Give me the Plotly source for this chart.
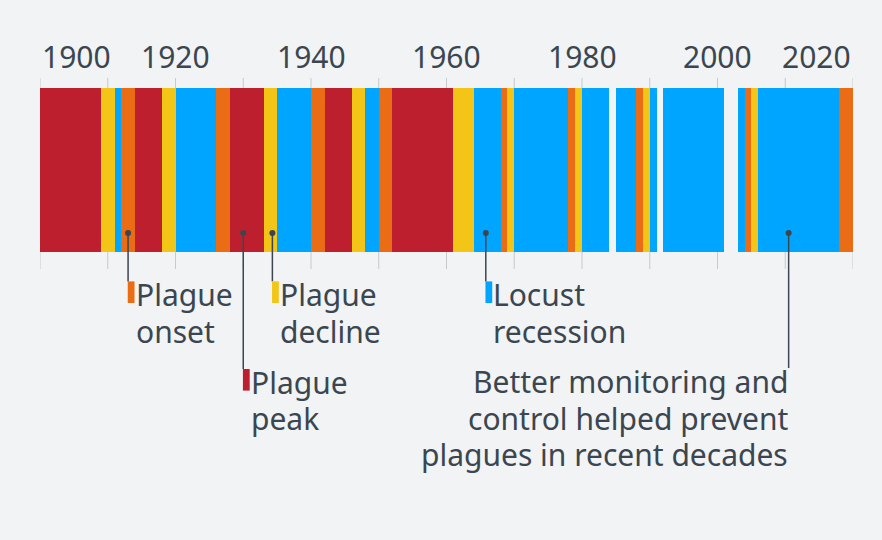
import plotly.graph_objects as go

# ---------------- data ----------------
years = list(range(1900, 2020))
# R = plague peak, O = plague onset, Y = plague decline, B = locust recession, "" = no data
phases = (
    ["R"] * 9 + ["Y"] * 2 + ["B"] + ["O"] * 2 + ["R"] * 4 + ["Y"] * 2      # 1900-1919
    + ["B"] * 6 + ["O"] * 2 + ["R"] * 5 + ["Y"] * 2 + ["B"] * 5            # 1920-1939
    + ["O"] * 2 + ["R"] * 4 + ["Y"] * 2 + ["B"] * 2                        # 1940-1949
    + ["O"] * 2 + ["R"] * 9 + ["Y"] * 3 + ["B"] * 4 + ["O"] + ["Y"]        # 1950-1969
    + ["B"] * 8 + ["O"] + ["Y"]                                            # 1970-1979
    + ["B"] * 4 + [""] + ["B"] * 3 + ["O"] + ["Y"]                         # 1980-1989
    + ["B"] + [""] + ["B"] * 9                                             # 1990-2000
    + [""] * 2 + ["B"] + ["O"] + ["Y"] + ["B"] * 12 + ["O"] * 2           # 2001-2019
)
phase_names = {"O": "Plague onset", "R": "Plague peak", "Y": "Plague decline", "B": "Locust recession"}
phase_colors = {"O": "#ea6c14", "R": "#be1f2e", "Y": "#f2c516", "B": "#00a5ff"}

tick_years = list(range(1900, 2021, 10))
label_years = [1900, 1920, 1940, 1960, 1980, 2000, 2020]

# callouts: (phase, year where the pointer sits, label lines, row)
callouts = [
    ("O", 1913.0, ["Plague", "onset"], 0),
    ("R", 1930.0, ["Plague", "peak"], 1),
    ("Y", 1934.3, ["Plague", "decline"], 0),
    ("B", 1965.8, ["Locust", "recession"], 0),
]
note_year = 2010.5
note_lines = ["Better monitoring and", "control helped prevent", "plagues in recent decades"]

# ---------------- style ----------------
BG = "#f1f3f5"
TXT = "#3b4650"
GRID = "#c5cacf"
FONT = "Noto Sans"
FS = 30
LINE_H = 36.7

# layout geometry (pixels)
W, H = 882, 540
PL, PR, PT, PB = 40, 882 - 852.7, 78.3, 540 - 269.3
plot_h = H - PT - PB


def py2paper(py):
    return (H - PB - py) / plot_h


fig = go.Figure()

for code in ["R", "O", "Y", "B"]:
    xs = [y for y, p in zip(years, phases) if p == code]
    fig.add_trace(go.Bar(
        x=xs, y=[1] * len(xs), base=0, width=1, offset=0,
        marker=dict(color=phase_colors[code], line=dict(width=0)),
        name=phase_names[code], showlegend=False, hoverinfo="x+name",
    ))

shapes = []
for ty in tick_years:
    shapes.append(dict(type="line", xref="x", yref="paper", x0=ty, x1=ty, y0=0, y1=1,
                       line=dict(color=GRID, width=1), layer="below"))

font = dict(family=FONT, size=FS, color=TXT)
annotations = []
for ly in label_years:
    anchor = "left" if ly == label_years[0] else ("right" if ly == label_years[-1] else "center")
    annotations.append(dict(x=ly, y=py2paper(57), xref="x", yref="paper", text=str(ly),
                            showarrow=False, xanchor=anchor, yanchor="middle",
                            xshift=0, font=font))

CAP_OFF = 11.5  # distance from annotation box top to cap top
dot_y = 0.116
dot_x = []
for code, yr, lines, row in callouts:
    dot_x.append(yr)
    top_px = 281.7 if row == 0 else 369.3
    shapes.append(dict(type="line", xref="x", yref="paper", x0=yr, x1=yr,
                       y0=py2paper(233.3), y1=py2paper(top_px),
                       line=dict(color=TXT, width=1.5)))
    shapes.append(dict(type="rect", xref="x", yref="paper", x0=yr - 0.05, x1=yr + 0.95,
                       y0=py2paper(top_px), y1=py2paper(top_px + 21.6),
                       line=dict(width=0), fillcolor=phase_colors[code]))
    cap_top = top_px + 2
    for i, ln in enumerate(lines):
        annotations.append(dict(x=yr + 0.95, y=py2paper(cap_top + i * LINE_H - CAP_OFF),
                                xref="x", yref="paper", text=ln, showarrow=False,
                                xanchor="left", yanchor="top", xshift=-1, font=font))

dot_x.append(note_year)
shapes.append(dict(type="line", xref="x", yref="paper", x0=note_year, x1=note_year,
                   y0=py2paper(233.3), y1=py2paper(368.3),
                   line=dict(color=TXT, width=1.5)))
for i, ln in enumerate(note_lines):
    annotations.append(dict(x=note_year, y=py2paper(371.7 + i * LINE_H - CAP_OFF - 1),
                            xref="x", yref="paper", text=ln, showarrow=False,
                            xanchor="right", yanchor="top", xshift=1, font=font))

fig.add_trace(go.Scatter(x=dot_x, y=[dot_y] * len(dot_x), mode="markers",
                         marker=dict(color=TXT, size=6), showlegend=False,
                         hoverinfo="skip", cliponaxis=False))

fig.update_layout(
    width=W, height=H,
    margin=dict(l=PL, r=PR, t=PT, b=PB, pad=0),
    paper_bgcolor=BG, plot_bgcolor=BG,
    barmode="overlay", bargap=0,
    shapes=shapes, annotations=annotations,
    xaxis=dict(range=[1900, 2020], showgrid=False, zeroline=False, showticklabels=False,
               ticks="", showline=False, fixedrange=True),
    yaxis=dict(range=[-0.104, 1.061], showgrid=False, zeroline=False, showticklabels=False,
               ticks="", showline=False, fixedrange=True),
    font=dict(family=FONT, color=TXT),
)

fig.write_html("out.html", config={"displayModeBar": False},
               post_script="document.body.style.margin='0';document.body.style.background='#f1f3f5';")
